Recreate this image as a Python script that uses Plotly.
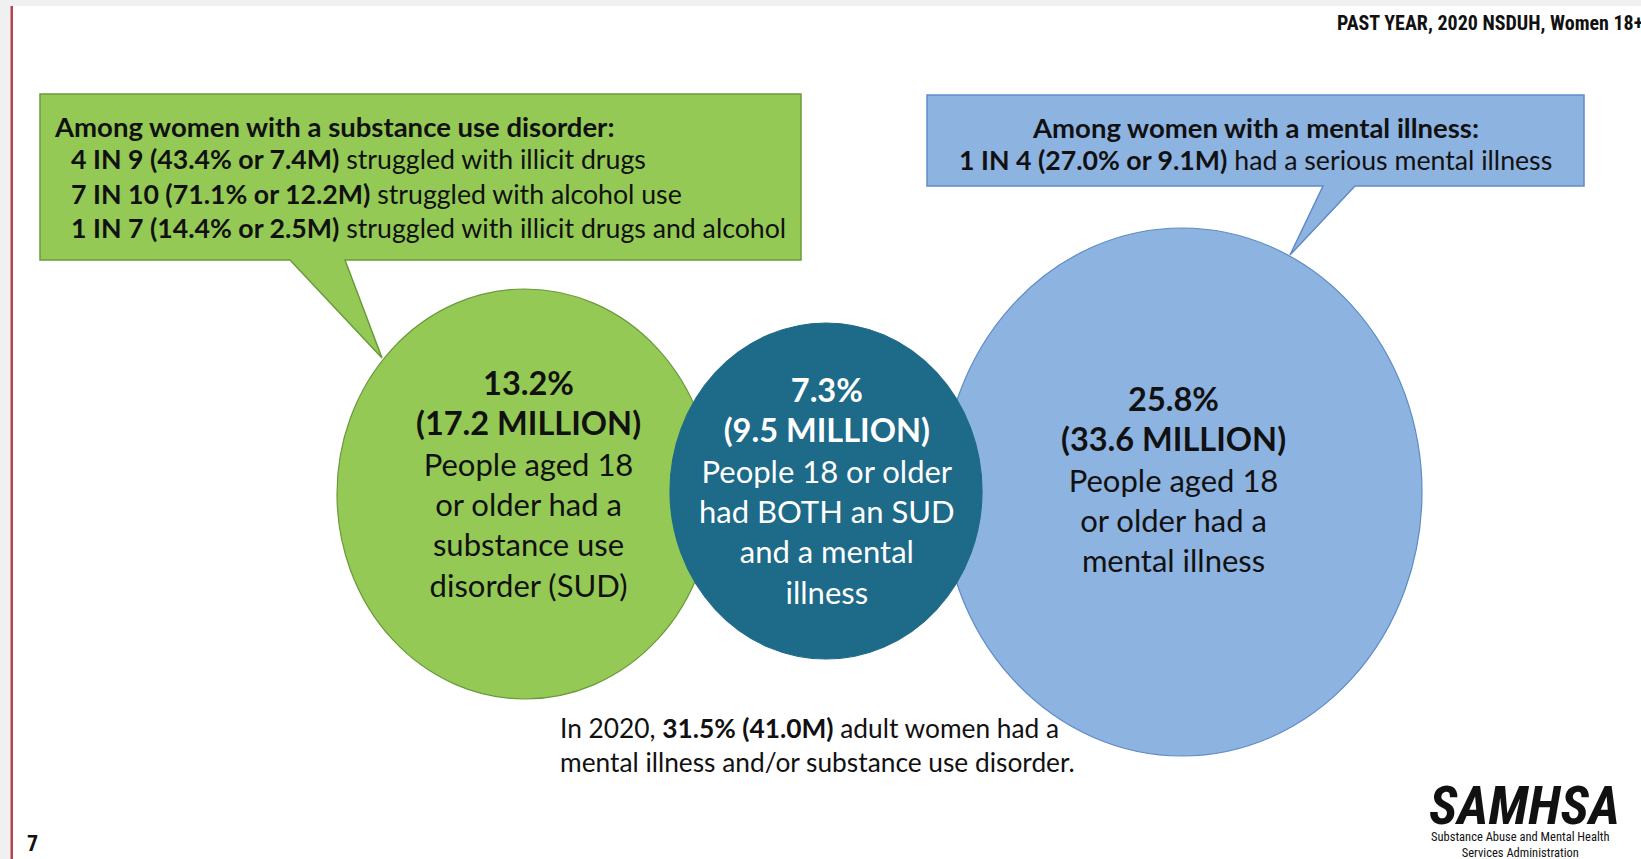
import plotly.graph_objects as go

W, H = 1641, 859

# ---- figures: past year, 2020 NSDUH, women 18+ ----
group_pct = [13.2, 7.3, 25.8]
group_millions = [17.2, 9.5, 33.6]
group_desc = [
    "People aged 18<br>or older had a<br>substance use<br>disorder (SUD)",
    "People 18 or older<br>had BOTH an SUD<br>and a mental<br>illness",
    "People aged 18<br>or older had a<br>mental illness",
]

sud_ratio = ["4 IN 9", "7 IN 10", "1 IN 7"]
sud_pct = [43.4, 71.1, 14.4]
sud_millions = [7.4, 12.2, 2.5]
sud_text = ["struggled with illicit drugs",
            "struggled with alcohol use",
            "struggled with illicit drugs and alcohol"]

mi_ratio = ["1 IN 4"]
mi_pct = [27.0]
mi_millions = [9.1]
mi_text = ["had a serious mental illness"]

total_pct = 31.5
total_millions = 41.0

# ---- styling / geometry ----
FONT = "Lato, 'Open Sans', sans-serif"
NARROW = "'Roboto Condensed', 'Noto Sans Condensed', 'DejaVu Sans Condensed', 'Liberation Sans Narrow', Roboto, sans-serif"
GREEN, GREEN_LINE = "#94c955", "#6a9a3c"
TEAL = "#1e6a89"
BLUE, BLUE_LINE = "#8db3e1", "#5f8cc6"
INK = "#111111"

# ellipse centres/radii and label anchor (px in slide space)
ellipses = [
    dict(cx=525, cy=494, rx=188, ry=205, tx=528, ty=483, fill=GREEN, line=GREEN_LINE, text=INK),
    dict(cx=826, cy=491, rx=156, ry=168, tx=827, ty=490, fill=TEAL, line=TEAL, text="white"),
    dict(cx=1182, cy=492, rx=240, ry=264, tx=1173, ty=479, fill=BLUE, line=BLUE_LINE, text=INK),
]

fig = go.Figure()
fig.add_trace(go.Scatter(x=[e["cx"] for e in ellipses], y=[e["cy"] for e in ellipses],
                         mode="markers", marker=dict(opacity=0), hoverinfo="skip",
                         showlegend=False))

shapes = []
# slide area and left accent rule
shapes.append(dict(type="rect", x0=13, x1=W, y0=6, y1=H, fillcolor="white", line_width=0, layer="below"))
shapes.append(dict(type="rect", x0=10.5, x1=13, y0=6, y1=H, fillcolor="#b3444f", line_width=0, layer="below"))

# callout boxes with tails
shapes.append(dict(type="path",
                   path="M40,94 L801,94 L801,260 L345,260 L382,358 L290,260 L40,260 Z",
                   fillcolor=GREEN, line=dict(color=GREEN_LINE, width=1.5)))
shapes.append(dict(type="path",
                   path="M927,95 L1584,95 L1584,186 L1355,186 L1290,255 L1323,186 L927,186 Z",
                   fillcolor=BLUE, line=dict(color=BLUE_LINE, width=1.5)))

# circles: green, blue, then the overlap group on top
for i in [0, 2, 1]:
    e = ellipses[i]
    shapes.append(dict(type="circle", x0=e["cx"] - e["rx"], x1=e["cx"] + e["rx"],
                       y0=e["cy"] - e["ry"], y1=e["cy"] + e["ry"],
                       fillcolor=e["fill"], line=dict(color=e["line"], width=1.2)))

annotations = []

def ann(x, y, text, size, color=INK, family=FONT, xanchor="center", align="center", yanchor="middle"):
    annotations.append(dict(x=x, y=y, xref="x", yref="y", text=text, showarrow=False,
                            font=dict(family=family, size=size, color=color),
                            xanchor=xanchor, yanchor=yanchor, align=align))

def big(s):
    return f"<span style='font-size:32.5px'>{s}</span>"

# circle labels
for e, p, m, d in zip(ellipses, group_pct, group_millions, group_desc):
    ann(e["tx"], e["ty"], f"<b>{big(f'{p:.1f}%')}<br>{big(f'({m:.1f} MILLION)')}</b><br>{d}",
        31, color=e["text"])

# green callout
ann(52, 126, "<b>Among women with a substance use disorder:</b>", 27.5, xanchor="left", align="left")
sud_lines = [f"<b>{r} ({p:.1f}% or {m:.1f}M)</b> {t}"
             for r, p, m, t in zip(sud_ratio, sud_pct, sud_millions, sud_text)]
ann(69, 193, "<br>".join(sud_lines), 26.7, xanchor="left", align="left")

# blue callout
mi_lines = [f"<b>{r} ({p:.1f}% or {m:.1f}M)</b> {t}"
            for r, p, m, t in zip(mi_ratio, mi_pct, mi_millions, mi_text)]
ann(1255, 127, "<b>Among women with a mental illness:</b>", 27.5)
ann(1255, 160, "<br>".join(mi_lines), 26.7)

# overall total
ann(558, 745, f"In 2020, <b>{total_pct:.1f}% ({total_millions:.1f}M)</b> adult women had a<br>"
              "mental illness and/or substance use disorder.", 26.3, xanchor="left", align="left")

# header, page number, agency mark
ann(1335, 23, "<b>PAST YEAR, 2020 NSDUH, Women 18+</b>", 20, family=NARROW, xanchor="left", align="left")
ann(25, 843, "<b>7</b>", 22, family=NARROW, xanchor="left")
ann(1524, 805, "<b><i>SAMHSA</i></b>", 54, family=NARROW)
ann(1520, 844, "Substance Abuse and Mental Health<br>Services Administration", 12.5, family=NARROW)

fig.update_layout(
    width=W, height=H,
    margin=dict(l=0, r=0, t=0, b=0),
    paper_bgcolor="#f0f0f0", plot_bgcolor="rgba(0,0,0,0)",
    xaxis=dict(range=[0, W], visible=False, fixedrange=True),
    yaxis=dict(range=[H, 0], visible=False, fixedrange=True),
    shapes=shapes, annotations=annotations,
    showlegend=False,
)

fig.write_html("out.html", config={"displayModeBar": False})
